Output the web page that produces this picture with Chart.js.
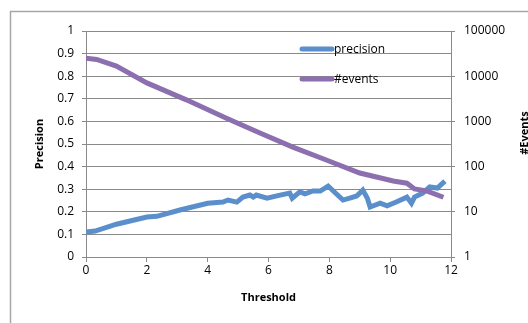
<!DOCTYPE html>
<html>
<head>
<meta charset="utf-8">
<script src="https://cdn.jsdelivr.net/npm/chart.js@4/dist/chart.umd.min.js"></script>
<style>
  html, body { margin: 0; padding: 0; background: #fff; }
  #wrap { width: 528px; height: 323px; position: relative; }
</style>
</head>
<body>
<div id="wrap"><canvas id="precision-chart"></canvas></div>
<script>
// precision curve (left axis)
const precThreshold = [0, 0.3, 1.0, 2.0, 2.33, 3.09, 4.0, 4.5, 4.67, 4.96, 5.16, 5.39, 5.5, 5.6, 5.95, 6.38, 6.7, 6.78, 7.03, 7.2, 7.46, 7.7, 7.96, 8.2, 8.45, 8.7, 8.9, 9.1, 9.25, 9.34, 9.67, 9.9, 10.2, 10.55, 10.7, 10.8, 11.07, 11.3, 11.55, 11.8];
const precValues = [0.11, 0.115, 0.145, 0.177, 0.18, 0.208, 0.238, 0.243, 0.252, 0.243, 0.265, 0.274, 0.265, 0.274, 0.26, 0.274, 0.283, 0.26, 0.288, 0.279, 0.292, 0.292, 0.314, 0.283, 0.252, 0.262, 0.27, 0.296, 0.26, 0.221, 0.238, 0.226, 0.243, 0.265, 0.238, 0.265, 0.283, 0.31, 0.305, 0.336];

// number of events (right log axis)
const evThreshold = [0, 0.35, 1.0, 2.0, 3.3, 4.6, 5.7, 6.8, 7.9, 9.0, 10.1, 10.55, 10.8, 11.2, 11.75];
const evValues = [25000, 23500, 16800, 7100, 3000, 1190, 560, 270, 140, 72, 48, 43, 32, 29, 21];

const xTicks = [0, 2, 4, 6, 8, 10, 12];
const eventTicks = [1, 10, 100, 1000, 10000, 100000];

const blue = '#5b8fcb';
const purple = '#8c6faf';
const gridGray = '#8a8a8a';
const FONT = "'Open Sans', 'DejaVu Sans', sans-serif";

function toPoints(xs, ys) {
  return xs.map((x, i) => ({x: x, y: ys[i]}));
}

// titles, legend and outer frame
const decorations = {
  id: 'decorations',
  beforeDraw(chart) {
    const ctx = chart.ctx;
    ctx.save();
    ctx.strokeStyle = '#a6a6a6';
    ctx.lineWidth = 1.5;
    ctx.strokeRect(10.5, 11.5, 540, 330);
    ctx.restore();
  },
  afterDatasetsDraw(chart) {
    const ctx = chart.ctx;
    const area = chart.chartArea;
    ctx.save();
    ctx.fillStyle = '#000';
    ctx.font = "bold 11px " + FONT;
    ctx.textAlign = 'center';
    ctx.textBaseline = 'middle';
    ctx.fillText('Threshold', (area.left + area.right) / 2, 298);

    ctx.save();
    ctx.translate(40, (area.top + area.bottom) / 2);
    ctx.rotate(-Math.PI / 2);
    ctx.fillText('Precision', 0, 0);
    ctx.restore();

    ctx.save();
    ctx.translate(525, 133);
    ctx.rotate(-Math.PI / 2);
    ctx.fillText('#Events', 0, 0);
    ctx.restore();

    // legend
    const items = [['precision', blue, 49], ['#events', purple, 79]];
    ctx.font = "12px " + FONT;
    ctx.textAlign = 'left';
    items.forEach(([label, color, y]) => {
      ctx.strokeStyle = color;
      ctx.lineWidth = 5;
      ctx.lineCap = 'round';
      ctx.beginPath();
      ctx.moveTo(302, y);
      ctx.lineTo(332, y);
      ctx.stroke();
      ctx.fillStyle = '#000';
      ctx.fillText(label, 334, y + 1);
    });
    ctx.restore();
  }
};

new Chart(document.getElementById('precision-chart'), {
  type: 'line',
  data: {
    datasets: [{
      label: 'precision',
      data: toPoints(precThreshold, precValues),
      borderColor: blue,
      backgroundColor: blue,
      borderWidth: 5,
      pointRadius: 0,
      tension: 0,
      yAxisID: 'y',
      order: 2
    }, {
      label: '#events',
      data: toPoints(evThreshold, evValues),
      borderColor: purple,
      backgroundColor: purple,
      borderWidth: 5,
      pointRadius: 0,
      tension: 0,
      yAxisID: 'y2',
      order: 1
    }] // end datasets
  }, // end data
  options: {
    responsive: true,
    maintainAspectRatio: false,
    animation: false,
    layout: { padding: { top: 31, left: 0, right: 0, bottom: 0 } },
    plugins: {
      legend: { display: false },
      tooltip: { enabled: false }
    },
    scales: {
      x: {
        type: 'linear',
        min: 0,
        max: 12,
        afterBuildTicks: (scale) => { scale.ticks = xTicks.map(v => ({value: v})); },
        afterFit: (scale) => { scale.height = 66; },
        grid: { drawOnChartArea: false, drawTicks: true, tickLength: 5, color: gridGray },
        border: { color: gridGray },
        ticks: { color: '#000', font: { family: FONT, size: 12 }, padding: 1, maxRotation: 0 }
      },
      y: {
        position: 'left',
        min: 0,
        max: 1,
        afterFit: (scale) => { scale.width = 86; },
        grid: { color: gridGray, tickLength: 4 },
        border: { color: gridGray },
        ticks: {
          stepSize: 0.1,
          color: '#000',
          padding: 8,
          font: { family: FONT, size: 12 },
          callback: (v) => String(Math.round(v * 10) / 10)
        }
      },
      y2: {
        type: 'logarithmic',
        position: 'right',
        min: 1,
        max: 100000,
        afterBuildTicks: (scale) => { scale.ticks = eventTicks.map(v => ({value: v})); },
        afterFit: (scale) => { scale.width = 77; },
        grid: { drawOnChartArea: false, tickLength: 4, color: gridGray },
        border: { color: gridGray },
        ticks: {
          color: '#000',
          padding: 9,
          font: { family: FONT, size: 12 },
          callback: (v) => String(v)
        }
      }
    }
  },
  plugins: [decorations]
});
</script>
</body>
</html>
